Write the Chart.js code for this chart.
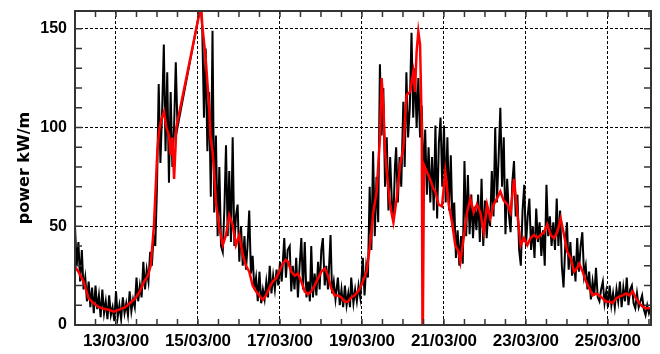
<!DOCTYPE html>
<html lang="en">
<head>
    <meta charset="UTF-8">
    <title>Wave power</title>
    <script src="https://cdn.jsdelivr.net/npm/chart.js"></script>
    <style>
        body { margin: 0; background: #fff; }
    </style>
</head>
<body>

<canvas id="mychart" width="660" height="354"></canvas>

<script>
    // hours after 12/03/00 00:00
    const blackHours = [
        0, 1, 2, 3, 4, 5, 6, 7, 8, 9,
        10, 11, 12, 13, 14, 15, 16, 17, 18, 19,
        20, 21, 22, 23, 24, 25, 26, 27, 28, 29,
        30, 31, 32, 33, 34, 35, 36, 37, 38, 39,
        40, 41, 42, 43, 44, 45, 46, 47, 48, 49,
        50, 51, 52, 53, 54, 55, 56, 57, 58, 59,
        60, 73.6, 74.5, 75.5, 76.5, 77.5, 78.5, 79.5, 80.5, 81.5,
        82.5, 83.5, 84.5, 85.5, 86.5, 87.5, 88.4, 89.4, 90.3, 91.3,
        92.3, 93.3, 94.2, 95.2, 96.2, 97.2, 98.2, 99.2, 100.1, 101,
        102, 103, 104, 105, 106, 107, 108, 109, 110, 111,
        112, 113, 114, 115, 116, 117, 118, 119, 120, 121,
        122.5, 123.5, 124.5, 125.7, 126.6, 127.5, 128.5, 129.5, 130.5, 131.5,
        132.5, 133.5, 134.5, 135.5, 136.5, 137.5, 138.3, 139.3, 140.3, 141.3,
        142.3, 143.2, 144.2, 145.1, 146.2, 147.1, 148.1, 149.6, 150.5, 151.5,
        152.5, 153.9, 155, 156, 157, 158, 159, 160, 161, 161.7,
        163, 164, 165, 166, 167, 168.5, 169.5, 170.5, 171.5, 172.5,
        173.5, 174.5, 175.5, 176.5, 177.5, 178.5, 179.5, 180.5, 181.5, 182.5,
        183.5, 184.5, 185.5, 186.4, 187.3, 188, 189, 190, 191, 192.2,
        193, 194, 195, 196, 197, 198, 199, 200, 201, 202,
        203, 204, 205, 206, 207, 208, 209, 210, 211, 212,
        213, 214, 215, 216, 217, 218, 219, 220, 221, 222,
        223, 224, 225, 226, 227, 228, 229, 230, 231, 232,
        233, 234, 235, 236, 237, 238, 239, 240, 241, 242,
        243, 244, 245, 246, 247, 248, 249, 250, 251, 252,
        253, 254, 255, 256, 257, 258, 259, 260, 261, 262,
        263, 264, 265, 266, 267, 268, 269, 270, 271, 272,
        273, 274, 275, 276, 277, 278, 279, 280, 281, 282,
        283, 284, 285, 286, 287, 288, 289, 290, 291, 292,
        293, 294, 295, 296, 297, 298, 299, 300, 301, 302,
        303, 304, 305, 306, 307, 308, 309, 310, 311, 312,
        313, 314, 315, 316, 317, 318, 319, 320, 321, 322,
        323, 324, 325, 326, 327, 328, 329, 330, 331, 332,
        333, 334, 335, 336, 337
    ];
    const blackPower = [
        50, 30, 42, 22, 38, 18, 24, 12, 22, 9,
        19, 6, 20, 8, 15, 4, 18, 6, 12, 3,
        15, 5, 9, 2, 17, 4, 10, 3, 14, 6,
        11, 5, 17, 7, 13, 9, 24, 12, 20, 14,
        32, 18, 28, 22, 37, 30, 45, 40, 70, 122,
        82, 108, 142, 88, 128, 72, 118, 80, 100, 133,
        100, 162, 150, 105, 140, 88, 118, 65, 149, 57,
        96, 45, 80, 40, 37, 60, 91, 45, 78, 42,
        95, 40, 55, 61, 32, 50, 30, 45, 28, 40,
        58, 26, 35, 18, 24, 12, 27, 11, 18, 13,
        22, 14, 30, 16, 25, 18, 28, 20, 32, 22,
        44, 24, 38, 40, 17, 30, 18, 34, 14, 30,
        44, 18, 42, 14, 22, 12, 40, 14, 26, 15,
        32, 18, 38, 44, 20, 30, 18, 45.6, 16, 22,
        13, 24, 10, 18, 9, 20, 10, 16, 9, 24,
        11, 18, 12, 20, 14, 34, 15, 30, 24, 70,
        38, 88, 45, 75, 52, 132, 96, 120, 70, 95,
        58, 85, 62, 54, 80, 90, 62, 85, 70, 113,
        80, 128, 95, 110, 148, 105, 130, 100, 125, 95,
        111, 70, 99, 66, 90, 62, 85, 58, 101, 54,
        92, 105, 70, 101, 62, 95, 58, 86, 50, 62,
        34, 48, 30, 45, 31, 83, 45, 76, 46, 66,
        44, 60, 48, 66, 42, 74, 40, 63, 44, 58,
        50, 78, 55, 100, 62, 85, 110, 70, 95, 46,
        74, 56, 47, 72, 83, 55, 66, 38, 30, 58,
        71, 40, 55, 64, 38, 50, 34, 59, 42, 52,
        35, 48, 30, 71, 45, 55, 40, 52, 38, 64,
        40, 58, 30, 19, 40, 52, 28, 42, 25, 35,
        22, 44, 27, 40, 47, 25, 30, 18, 27, 13,
        22, 15, 29, 14, 12, 18, 22, 11, 17, 9,
        20, 10, 16, 9, 18, 12, 22, 9, 19, 12,
        24, 10, 18, 20, 11, 8.5, 16, 9, 12, 15,
        8, 5, 10, 6, 9
    ];

    const redHours = [
        0, 2, 5, 8, 11, 14, 17, 20, 22.6, 26,
        29.4, 32, 35.3, 38, 40.4, 42.7, 44.3, 46.2, 48.2, 49.2,
        50.5, 52.1, 53.5, 55, 56, 57, 58, 58.9, 59.3, 73.8,
        74.5, 76.5, 78.4, 79.4, 80.5, 81.4, 82.5, 83.3, 84.5, 86.5,
        88.4, 90.3, 92.3, 94.2, 96.2, 98.2, 100.1, 102, 104, 106,
        107.9, 109.9, 111.8, 113.7, 115.7, 117.7, 119.6, 121.6, 123.5, 124.7,
        126.6, 128.6, 130.5, 132.5, 134.5, 136.4, 138.3, 140.3, 142.3, 144.2,
        146.2, 148.1, 150, 152, 154, 155.9, 157.9, 159.8, 161.7, 163.7,
        165.7, 167.6, 169.2, 170.7, 172.7, 174.6, 176.6, 178.5, 179.5, 180.5,
        181.5, 182.5, 184.4, 186.4, 188.3, 190.3, 192.2, 194.1, 196.1, 198,
        199, 200, 201, 202, 203, 203.5, 204.3, 205.9, 207.8, 209.8,
        210.9, 212.9, 214.8, 216.8, 218.8, 220.7, 222.6, 224.6, 225.6, 227.5,
        229.5, 231.4, 233.4, 235.3, 237.3, 239.3, 241.2, 243.1, 245.1, 247,
        249, 251, 253.1, 255, 257, 258.9, 260.9, 262.8, 264.8, 266.7,
        268.7, 270.6, 272.6, 274.6, 276.5, 278.5, 280.4, 282.3, 284.3, 286.3,
        288.2, 290.2, 292.1, 293.3, 295.2, 297.2, 299.1, 301.1, 303, 305,
        306.9, 308.9, 310.8, 312.8, 314.7, 316.7, 318.6, 320.6, 322.6, 324.5,
        326.5, 328.4, 330.4, 332.3, 334.3, 336.2, 337.2
    ];
    const redPower = [
        29.5, 27, 22, 13.5, 11, 9, 8.2, 7.6, 6.8, 7.8,
        9, 11, 13.5, 17, 22, 25, 30, 50, 88, 98,
        104, 108, 100, 96, 86, 95, 74, 91, 100, 162,
        152, 135, 112, 94, 88, 78, 62, 57, 49, 40.5,
        45.6, 55.7, 50.7, 40.5, 45.6, 35.5, 30, 27, 20, 17,
        15, 12.7, 15, 18.6, 22, 23.6, 27, 31, 33, 32,
        27, 25, 26, 22, 17, 15.5, 17, 20, 23.6, 27,
        28.7, 25, 18.6, 15, 15, 14, 11.8, 11.8, 14, 15,
        17, 20, 23.6, 27, 40.5, 57, 67.6, 94.6, 125, 111.5,
        88, 77.7, 61, 52, 64, 81, 89.5, 116.5, 118, 128,
        118, 138.5, 148.6, 142, 100, -20, 81, 77.7, 74, 69,
        67.6, 61, 60, 77.7, 61, 52, 40.5, 37, 32, 44,
        57, 64, 57, 61, 57, 47, 61, 54, 61, 64,
        67.6, 63, 61, 57, 74, 57, 40.5, 44, 40.5, 44,
        45.6, 44, 45.6, 47, 51, 45.6, 44, 47, 54, 45.6,
        37, 33.8, 27, 28, 31, 27, 22, 18.6, 15, 16,
        15, 13.5, 11.8, 11.8, 11, 13.5, 14.4, 15, 16, 15,
        17, 13.5, 11, 9.3, 8.5, 8.5, 8.5
    ];

    const tickHours = [24, 72, 120, 168, 216, 264, 312];
    const tickLabels = ['13/03/00', '15/03/00', '17/03/00', '19/03/00', '21/03/00', '23/03/00', '25/03/00'];
    const minorHours = [12, 24, 36, 48, 60, 72, 84, 96, 108, 120, 132, 144, 156, 168,
        180, 192, 204, 216, 228, 240, 252, 264, 276, 288, 300, 312, 324, 336];
    const yTicks = [0, 50, 100, 150];
    const yMinor = [10, 20, 30, 40, 50, 60, 70, 80, 90, 100, 110, 120, 130, 140, 150];

    const black = blackHours.map((h, i) => ({x: h, y: blackPower[i]}));
    const red = redHours.map((h, i) => ({x: h, y: redPower[i]}));

    // box round the plot and the small inward ticks
    const frame = {
        id: 'frame',
        afterDraw(chart) {
            const {ctx, chartArea: a, scales: {x, y}} = chart;
            ctx.save();
            ctx.strokeStyle = '#333';
            ctx.lineWidth = 1.5;
            ctx.beginPath();
            minorHours.forEach(h => {
                const px = x.getPixelForValue(h);
                ctx.moveTo(px, a.bottom); ctx.lineTo(px, a.bottom - 6);
                ctx.moveTo(px, a.top); ctx.lineTo(px, a.top + 6);
            });
            yMinor.forEach(v => {
                const py = y.getPixelForValue(v);
                ctx.moveTo(a.left, py); ctx.lineTo(a.left + 7, py);
                ctx.moveTo(a.right, py); ctx.lineTo(a.right - 7, py);
            });
            ctx.stroke();
            ctx.lineWidth = 2;
            ctx.strokeRect(a.left, a.top, a.width, a.height);
            ctx.restore();
        }
    };

    Chart.defaults.font.family = '"Liberation Sans", Arial, sans-serif';
    Chart.defaults.color = '#000';

    new Chart(document.getElementById('mychart'), {
        type: 'line',
        data: {
            datasets: [
                // first dataset is painted last, so red sits on top
                {data: red, borderColor: '#ff0000', borderWidth: 2.5, pointRadius: 0, tension: 0},
                {data: black, borderColor: '#000', borderWidth: 2, pointRadius: 0, tension: 0}
            ]
        },
        options: {
            responsive: false,
            animation: false,
            layout: {padding: {top: 11, right: 9, left: 0, bottom: 0}},
            plugins: {legend: {display: false}, tooltip: {enabled: false}},
            scales: {
                x: {
                    type: 'linear',
                    min: 0,
                    max: 337.2,
                    afterBuildTicks: s => { s.ticks = tickHours.map(v => ({value: v})); },
                    afterFit: s => { s.height = 29; s.paddingLeft = 0; s.paddingRight = 0; },
                    ticks: {
                        callback: v => tickLabels[tickHours.indexOf(v)],
                        font: {size: 17, weight: 'bold'},
                        padding: 6,
                        maxRotation: 0,
                        autoSkip: false
                    },
                    grid: {color: '#000', lineWidth: 1, drawTicks: false},
                    border: {display: false, dash: [3, 2]}
                },
                y: {
                    min: 0,
                    max: 159,
                    afterBuildTicks: s => { s.ticks = yTicks.map(v => ({value: v})); },
                    afterFit: s => { s.width = 75; s.paddingTop = 0; s.paddingBottom = 0; },
                    ticks: {font: {size: 16, weight: 'bold'}, padding: 8},
                    grid: {
                        color: c => c.tick && c.tick.value === 0 ? 'rgba(0,0,0,0)' : '#000',
                        lineWidth: 1,
                        drawTicks: false
                    },
                    border: {display: false, dash: [3, 2]},
                    title: {
                        display: true,
                        text: 'power kW/m',
                        font: {family: '"DejaVu Sans", sans-serif', size: 16, weight: 'bold'},
                        padding: {top: 15, bottom: 0}
                    }
                }
            }
        },
        plugins: [frame]
    });
</script>
</body>
</html>
